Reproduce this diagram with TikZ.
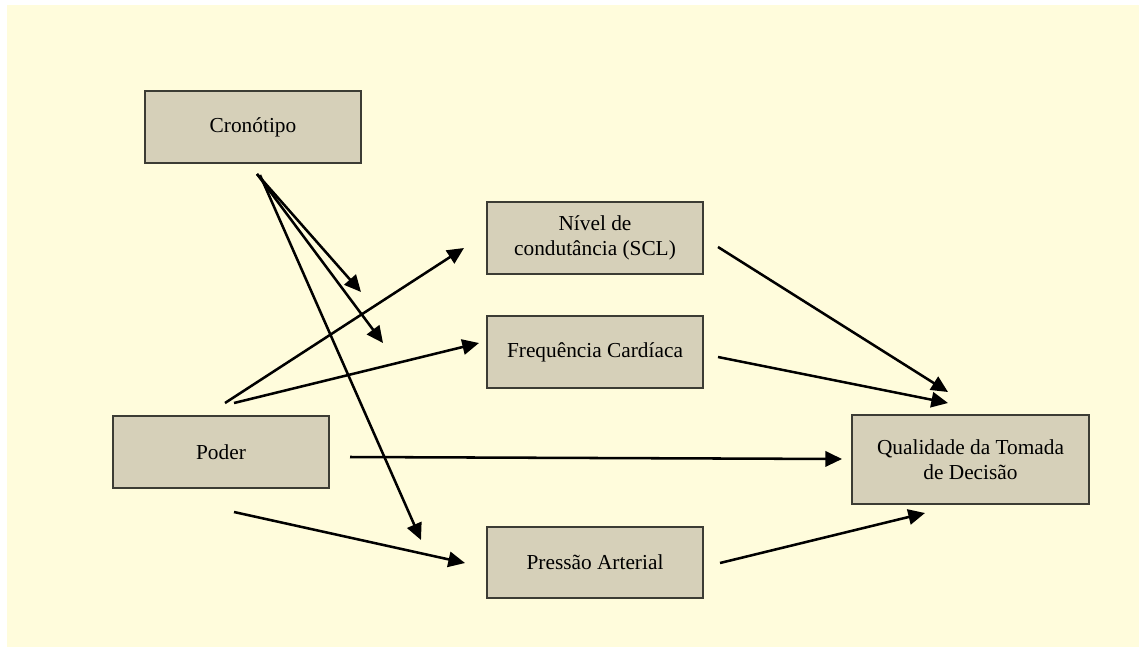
\documentclass[tikz,border=0pt]{standalone}
\usepackage{fontspec}
\setmainfont{Liberation Serif}
\usetikzlibrary{arrows.meta}
\definecolor{bgyellow}{RGB}{255,252,220}
\definecolor{boxfill}{RGB}{214,208,185}
\definecolor{boxline}{RGB}{60,60,52}
\tikzset{
  varbox/.style={draw=boxline, fill=boxfill, line width=0.8pt, inner sep=0pt,
    minimum width=162pt, minimum height=54pt, align=center,
    font=\fontsize{16}{18.5}\selectfont, text=black},
  link/.style={draw=black, line width=1.9pt,
    -{Triangle[length=12.5pt,width=11.5pt]}}
}
\begin{document}
\begin{tikzpicture}[x=0.75pt,y=-0.75pt]
\useasboundingbox (0,0) rectangle (1139,647);
\fill[white] (0,0) rectangle (1139,647);
\fill[bgyellow] (7,5) rectangle (1139,647);

\node[varbox] (cron) at (253,127) {Cronótipo};
\node[varbox] (nivel) at (595,238) {Nível de\\condutância (SCL)};
\node[varbox] (freq) at (595,352) {Frequência Cardíaca};
\node[varbox] (poder) at (221,452) {Poder};
\node[varbox, minimum width=177.75pt, minimum height=66.75pt] (qual) at (970.5,459.5) {Qualidade da Tomada\\de Decisão};
\node[varbox, minimum height=53.25pt] (press) at (595,562.5) {Pressão Arterial};

\coordinate (c1s) at (257,174);
\coordinate (c1e) at (361,292);
\coordinate (c2s) at (257,174);
\coordinate (c2e) at (383,343);
\coordinate (c3s) at (260,175);
\coordinate (c3e) at (421,540);
\coordinate (pns) at (225,403);
\coordinate (pne) at (464,248);
\coordinate (pfs) at (234,403);
\coordinate (pfe) at (479,343);
\coordinate (pqs) at (350,457);
\coordinate (pqe) at (842,459);
\coordinate (pps) at (234,512);
\coordinate (ppe) at (465,563);
\coordinate (nqs) at (718,247);
\coordinate (nqe) at (948,392);
\coordinate (fqs) at (718,357);
\coordinate (fqe) at (948,403);
\coordinate (rqs) at (720,563);
\coordinate (rqe) at (925,513);

\draw[link] (c1s) -- (c1e);
\draw[link] (c2s) -- (c2e);
\draw[link] (c3s) -- (c3e);
\draw[link] (pns) -- (pne);
\draw[link] (pfs) -- (pfe);
\draw[link] (pqs) -- (pqe);
\draw[link] (pps) -- (ppe);
\draw[link] (nqs) -- (nqe);
\draw[link] (fqs) -- (fqe);
\draw[link] (rqs) -- (rqe);
\end{tikzpicture}
\end{document}
